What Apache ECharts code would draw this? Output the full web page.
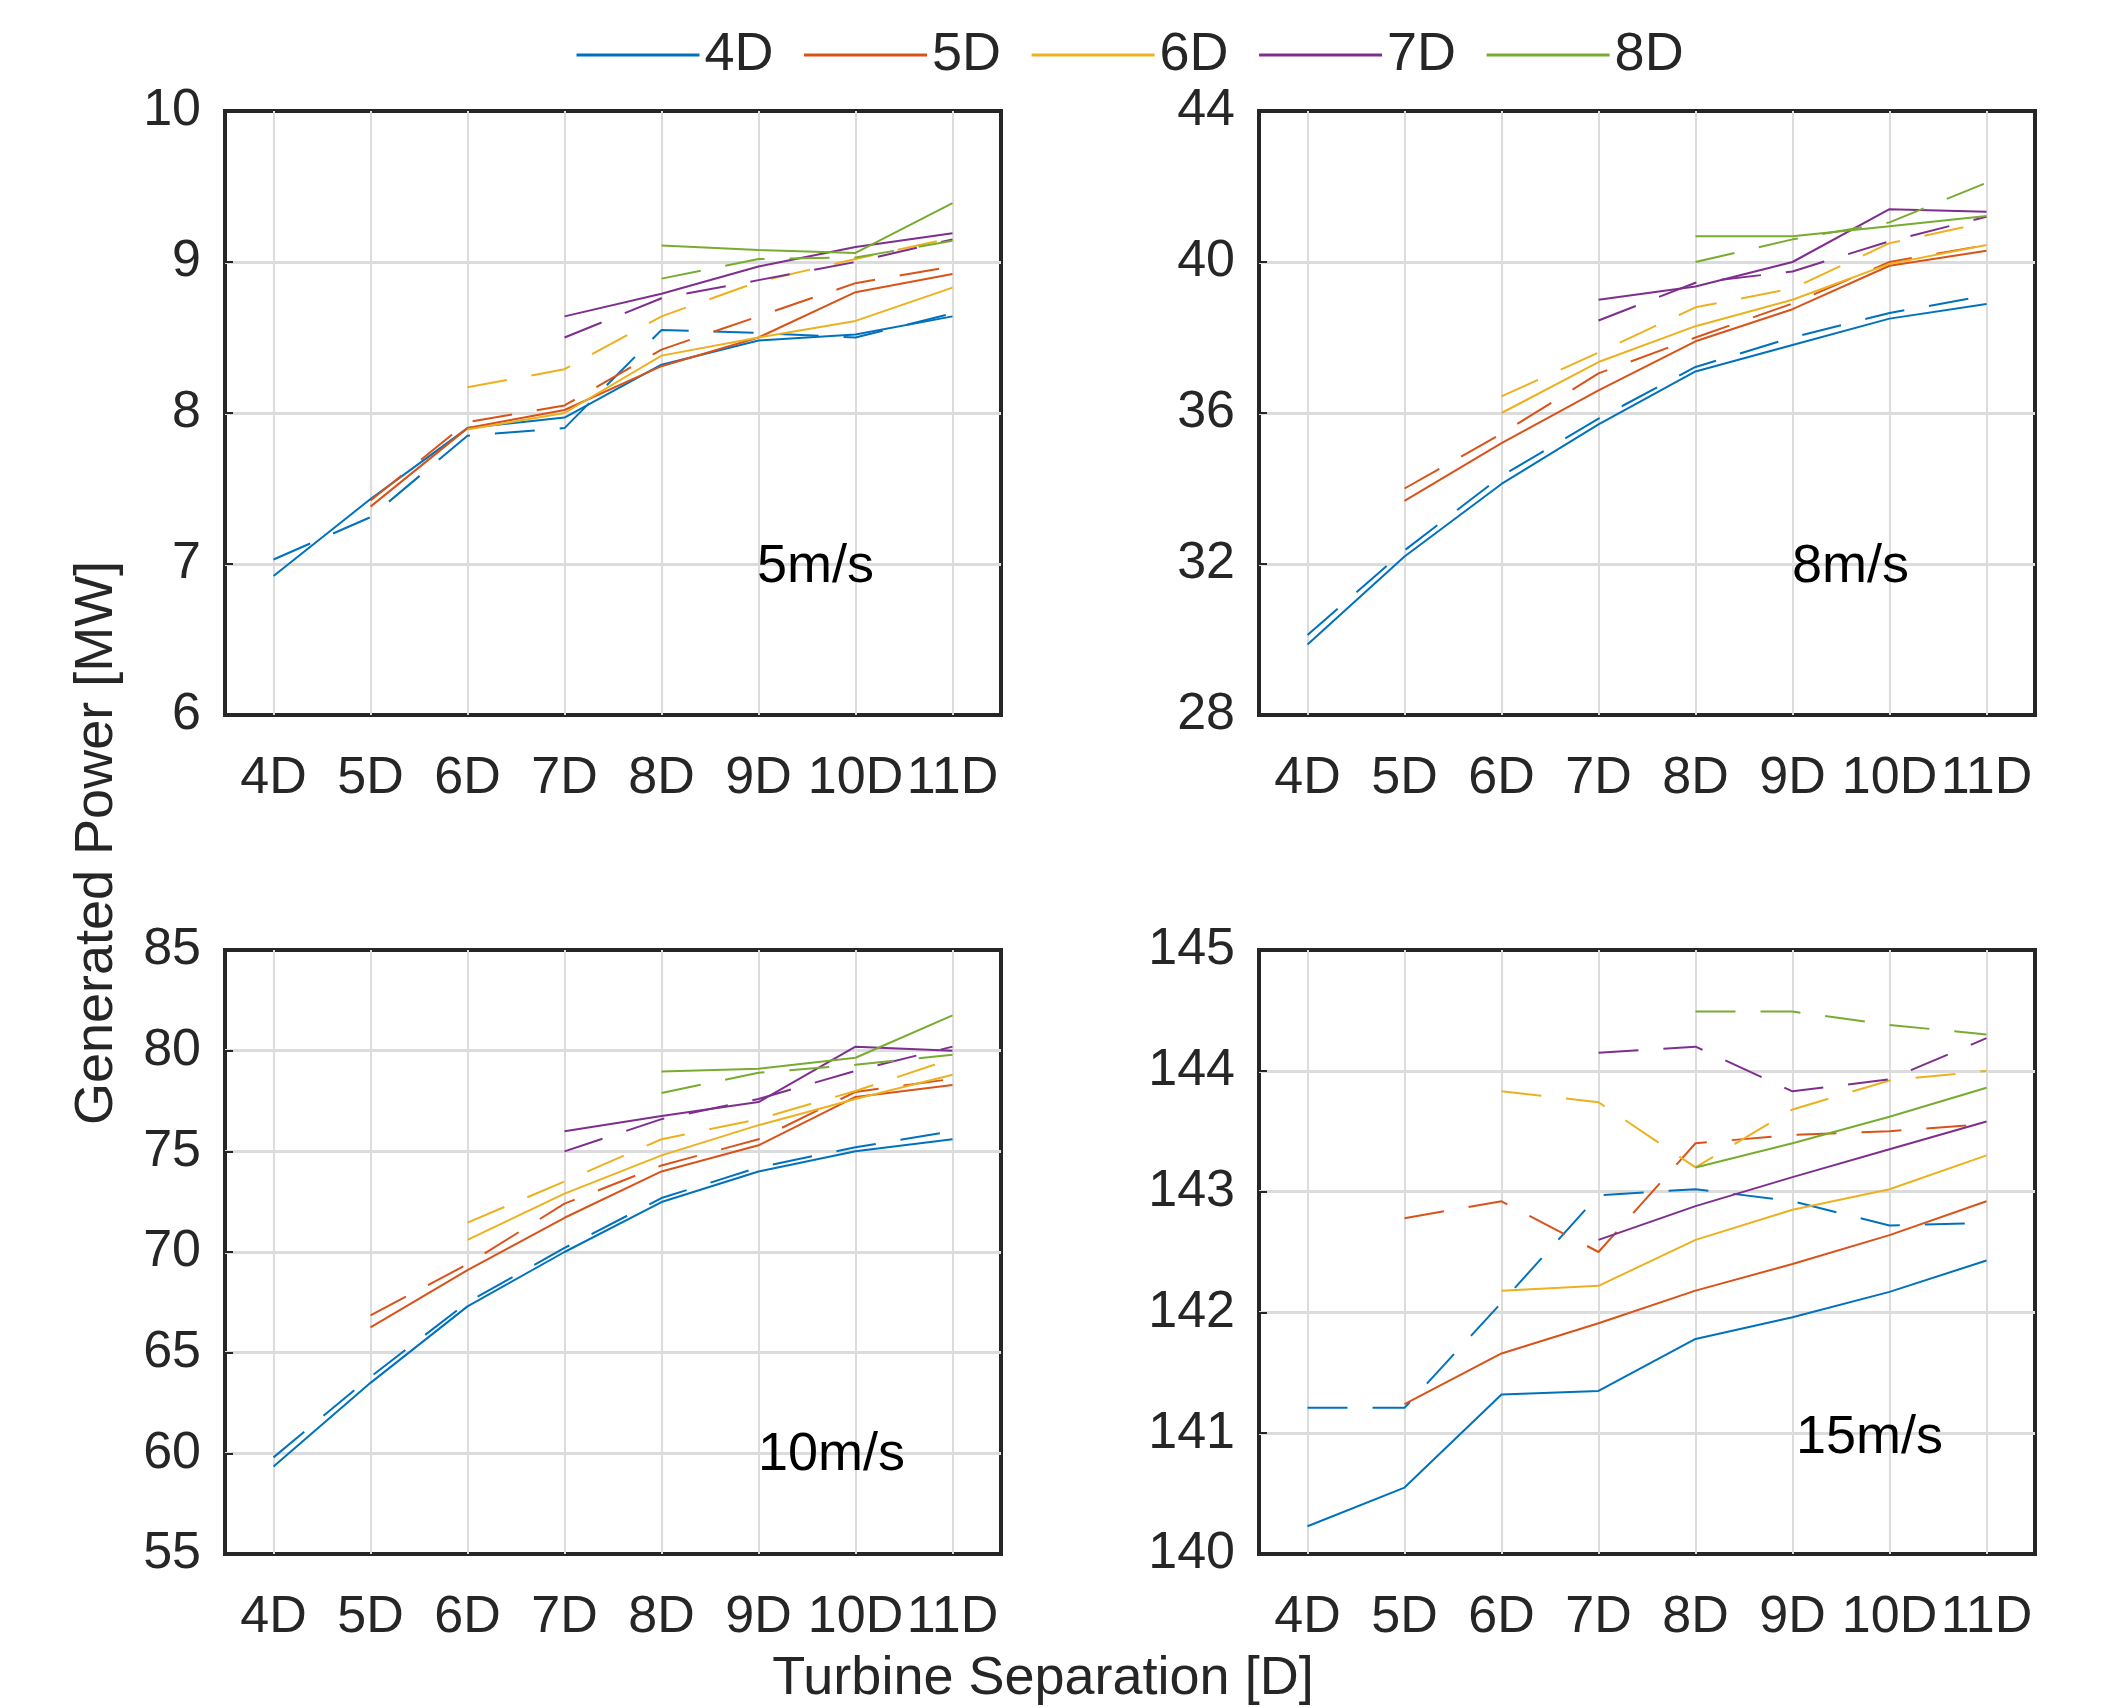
<!DOCTYPE html>
<html>
<head>
<meta charset="utf-8">
<script src="https://cdn.jsdelivr.net/npm/echarts@6/dist/echarts.min.js"></script>
<style>
  html, body { margin: 0; padding: 0; background: #fff; }
  #chart { width: 2105px; height: 1707px; }
</style>
</head>
<body>
<div id="chart"></div>
<script>
// turbine separation (x) and the spacing series shown in the legend
const separation = [4, 5, 6, 7, 8, 9, 10, 11];
const xTickLabels = ['4D', '5D', '6D', '7D', '8D', '9D', '10D', '11D'];
const seriesNames = ['4D', '5D', '6D', '7D', '8D'];
const colors = ['#0072BD', '#D95319', '#EDB120', '#7E2F8E', '#77AC30'];

// one panel per wind speed
const windLabels = ['5m/s', '8m/s', '10m/s', '15m/s'];
const yMin = [6, 28, 55, 140];
const yMax = [10, 44, 85, 145];
const yStep = [1, 4, 5, 1];

// generated power [MW]; each row starts at its own separation (4D row from 4D, 5D row from 5D ...)
const solid5 = [
  [6.92, 7.43, 7.90, 7.97, 8.32, 8.48, 8.52, 8.64],
  [7.38, 7.90, 8.02, 8.31, 8.50, 8.80, 8.92],
  [7.89, 8.00, 8.38, 8.50, 8.61, 8.83],
  [8.64, 8.79, 8.97, 9.10, 9.19],
  [9.11, 9.08, 9.06, 9.39]
];
const dashed5 = [
  [7.03, 7.31, 7.85, 7.90, 8.55, 8.53, 8.50, 8.66],
  [7.42, 7.94, 8.05, 8.42, 8.64, 8.86, 8.97],
  [8.17, 8.29, 8.64, 8.87, 9.02, 9.16],
  [8.50, 8.76, 8.88, 9.00, 9.15],
  [8.89, 9.02, 9.03, 9.14]
];

const solid8 = [
  [29.87, 32.2, 34.12, 35.7, 37.1, 37.8, 38.5, 38.89],
  [33.67, 35.2, 36.6, 37.9, 38.75, 39.9, 40.3],
  [36.0, 37.35, 38.3, 39.0, 39.95, 40.45],
  [39.0, 39.35, 40.0, 41.4, 41.33],
  [40.68, 40.68, 40.95, 41.22]
];
const dashed8 = [
  [30.12, 32.36, 34.33, 35.85, 37.22, 38.0, 38.65, 39.11],
  [34.0, 35.45, 37.05, 38.0, 38.9, 40.0, 40.45],
  [36.44, 37.6, 38.8, 39.3, 40.5, 41.05],
  [38.45, 39.45, 39.75, 40.55, 41.2],
  [40.0, 40.6, 41.05, 42.1]
];

const solid10 = [
  [59.35, 63.5, 67.3, 70.0, 72.48, 74.0, 75.0, 75.6],
  [66.26, 69.1, 71.7, 74.0, 75.3, 77.7, 78.3],
  [70.6, 72.9, 74.8, 76.3, 77.6, 78.8],
  [76.0, 76.75, 77.45, 80.2, 80.0],
  [78.96, 79.1, 79.65, 81.75]
];
const dashed10 = [
  [59.8, 63.8, 67.5, 70.2, 72.68, 74.2, 75.2, 76.0],
  [66.85, 69.4, 72.4, 74.3, 75.6, 77.95, 78.6],
  [71.46, 73.5, 75.6, 76.6, 78.0, 79.6],
  [75.0, 76.6, 77.6, 79.0, 80.2],
  [77.9, 78.9, 79.3, 79.8]
];

const solid15 = [
  [140.23, 140.55, 141.32, 141.35, 141.78, 141.96, 142.17, 142.43],
  [141.24, 141.66, 141.91, 142.18, 142.40, 142.64, 142.92],
  [142.18, 142.22, 142.60, 142.85, 143.02, 143.30],
  [142.60, 142.88, 143.12, 143.35, 143.58],
  [143.20, 143.40, 143.62, 143.86]
];
const dashed15 = [
  [141.21, 141.21, 142.08, 142.97, 143.02, 142.92, 142.72, 142.74],
  [142.78, 142.92, 142.50, 143.40, 143.47, 143.50, 143.56],
  [143.83, 143.74, 143.20, 143.68, 143.92, 144.00],
  [144.15, 144.20, 143.83, 143.93, 144.27],
  [144.49, 144.49, 144.38, 144.30]
];

const solidSets = [solid5, solid8, solid10, solid15];
const dashedSets = [dashed5, dashed8, dashed10, dashed15];

const FONT = '"Liberation Sans", Arial, Helvetica, sans-serif';
const INK = '#262626';
const GRID_GRAY = '#dcdcdc';

// panel boxes: [left, top]
const panelPos = [[225, 111], [1259, 111], [225, 950], [1259, 950]];
const PANEL_W = 776;
const PANEL_H = 604;
// where each wind speed label sits: [left, middle]
const labelPos = [[757, 567], [1792, 567], [758, 1455], [1796, 1438]];

function toPoints(vals) {
  const start = separation.length - vals.length;
  return vals.map((v, i) => [separation[start + i], v]);
}

const chart = echarts.init(document.getElementById('chart'), null, { renderer: 'canvas' });

const grids = panelPos.map(([l, t]) => ({
  left: l, top: t, width: PANEL_W, height: PANEL_H,
  show: true, borderColor: INK, borderWidth: 4, backgroundColor: '#fff'
}));

const xAxes = panelPos.map((_, i) => ({
  type: 'value', gridIndex: i,
  min: 3.5, max: 11.5, interval: 0.5,
  axisLine: { show: false },
  axisTick: { show: false },
  axisLabel: {
    margin: 38, fontSize: 52, color: INK, fontFamily: FONT,
    formatter: v => Number.isInteger(v) ? xTickLabels[v - separation[0]] : ''
  },
  // half steps are invisible, whole steps are the grey grid
  splitLine: { show: true, lineStyle: { color: ['rgba(0,0,0,0)', GRID_GRAY], width: 2 } }
}));

const yAxes = panelPos.map((_, i) => ({
  type: 'value', gridIndex: i,
  min: yMin[i], max: yMax[i], interval: yStep[i],
  axisLine: { show: false },
  axisTick: { show: true, inside: true, length: 8, lineStyle: { color: INK, width: 2 } },
  axisLabel: { margin: 24, fontSize: 52, color: INK, fontFamily: FONT },
  splitLine: { show: true, showMinLine: false, showMaxLine: false,
    lineStyle: { color: GRID_GRAY, width: 3 } }
}));

const series = [];
for (let p = 0; p < 4; p++) {
  for (let k = 0; k < seriesNames.length; k++) {
    series.push({
      name: seriesNames[k], type: 'line', xAxisIndex: p, yAxisIndex: p,
      data: toPoints(solidSets[p][k]),
      symbol: 'none', color: colors[k], z: 3,
      lineStyle: { width: 2, type: 'solid', color: colors[k] }
    });
    series.push({
      name: seriesNames[k], type: 'line', xAxisIndex: p, yAxisIndex: p,
      data: toPoints(dashedSets[p][k]),
      symbol: 'none', color: colors[k], z: 3,
      lineStyle: { width: 2, type: [40, 25], color: colors[k] }
    });
  }
}

const graphics = [
  {
    type: 'text', x: 97, y: 843, rotation: Math.PI / 2,
    style: { text: 'Generated Power [MW]', fontSize: 54, fontFamily: FONT, fill: INK,
      align: 'center', verticalAlign: 'middle' }
  },
  {
    type: 'text', x: 1043, y: 1679,
    style: { text: 'Turbine Separation [D]', fontSize: 54, fontFamily: FONT, fill: INK,
      align: 'center', verticalAlign: 'middle' }
  }
];
windLabels.forEach((txt, i) => {
  graphics.push({
    type: 'text', x: labelPos[i][0], y: labelPos[i][1], z: 10,
    style: { text: txt, fontSize: 54, fontFamily: FONT, fill: '#000',
      align: 'left', verticalAlign: 'middle' }
  });
});

chart.setOption({
  animation: false,
  backgroundColor: '#fff',
  textStyle: { fontFamily: FONT },
  legend: {
    data: seriesNames,
    left: 575, top: 28, padding: 0,
    itemWidth: 123, itemHeight: 14, itemGap: 29,
    itemStyle: { opacity: 0 },
    lineStyle: { width: 3 },
    textStyle: { fontSize: 54, color: INK, fontFamily: FONT }
  },
  grid: grids,
  xAxis: xAxes,
  yAxis: yAxes,
  series: series,
  graphic: graphics
});
</script>
</body>
</html>
